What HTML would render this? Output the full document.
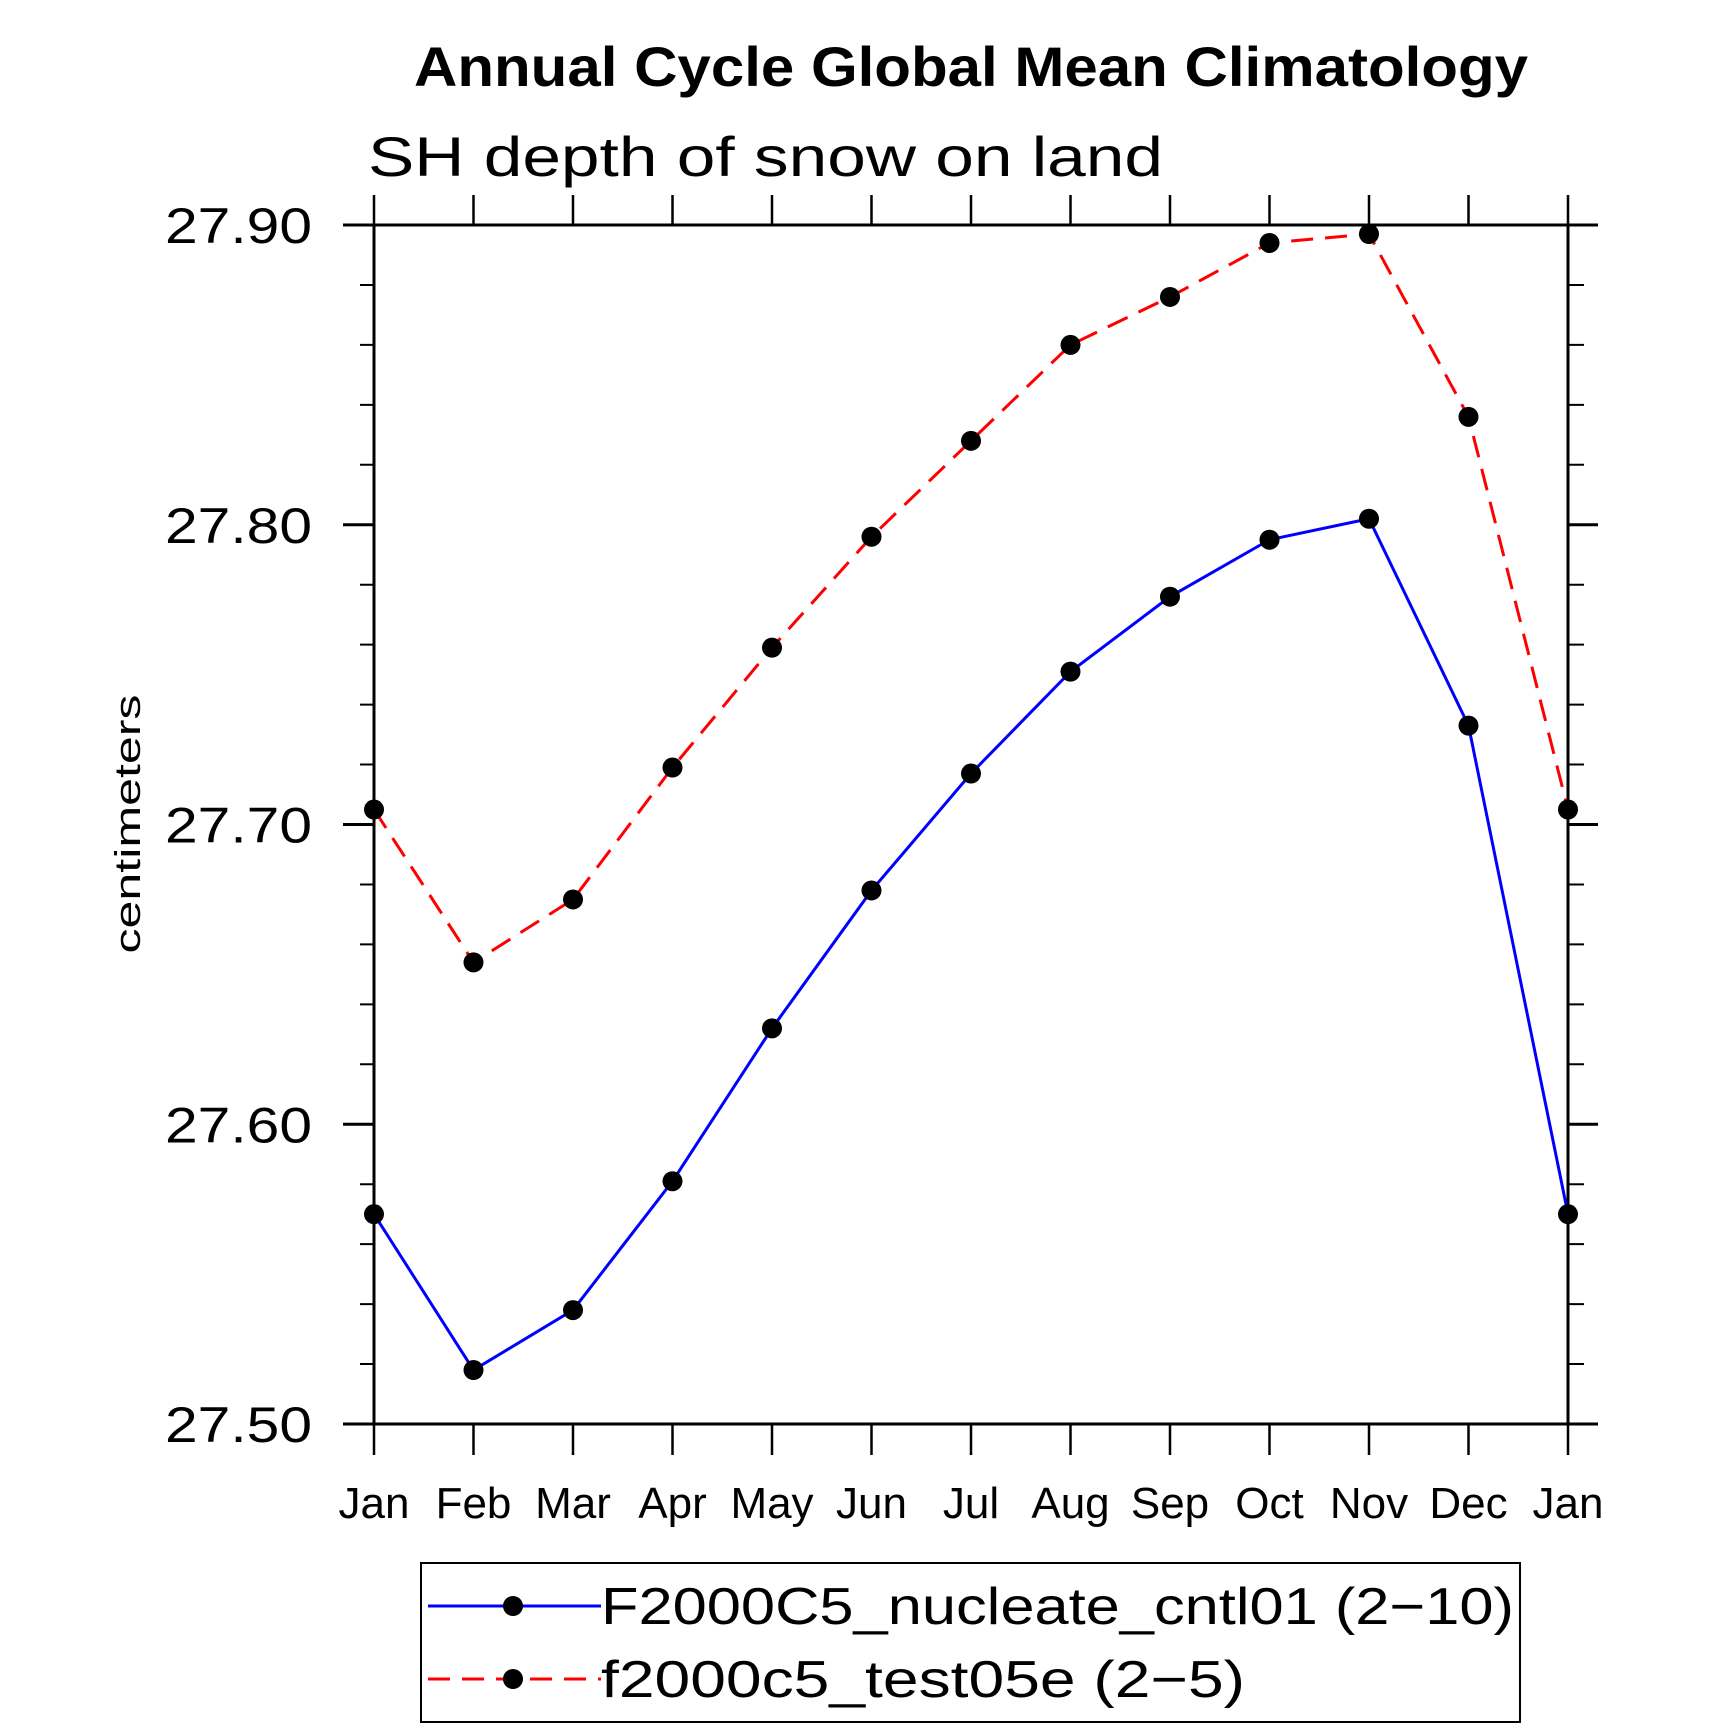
<!DOCTYPE html>
<html><head><meta charset="utf-8"><style>
html,body{margin:0;padding:0;background:#fff;}
svg{display:block;}
text{font-family:"Liberation Sans",sans-serif;}
</style></head><body>
<svg id="chart" width="1710" height="1729" viewBox="0 0 1710 1729" xmlns="http://www.w3.org/2000/svg">
<text x="414" y="86" font-size="56" font-weight="bold" textLength="1114" lengthAdjust="spacingAndGlyphs">Annual Cycle Global Mean Climatology</text>
<text x="368" y="176" font-size="56" font-weight="300" textLength="795" lengthAdjust="spacingAndGlyphs">SH depth of snow on land</text>
<text transform="translate(140,824) rotate(-90)" text-anchor="middle" font-size="36" textLength="259" lengthAdjust="spacingAndGlyphs">centimeters</text>
<g id="axes"></g>
<g id="series"></g>
<g>
<rect x="421" y="1563" width="1099" height="159" fill="none" stroke="#000" stroke-width="2"/>
<g>
<line x1="428" y1="1606" x2="601" y2="1606" stroke="#00f" stroke-width="3"/>
<circle cx="513" cy="1606" r="10" fill="#000"/>
<text x="601" y="1624" font-size="52" textLength="913" lengthAdjust="spacingAndGlyphs">F2000C5_nucleate_cntl01 (2−10)</text>
</g>
<g>
<line x1="428" y1="1679" x2="601" y2="1679" stroke="#f00" stroke-width="3" stroke-dasharray="22,12"/>
<circle cx="513" cy="1679" r="10" fill="#000"/>
<text x="601" y="1697" font-size="52" textLength="644" lengthAdjust="spacingAndGlyphs">f2000c5_test05e (2−5)</text>
</g>
</g>
</svg>
<script>
const months = ["Jan","Feb","Mar","Apr","May","Jun","Jul","Aug","Sep","Oct","Nov","Dec","Jan"];
const cntlValues = [27.570,27.518,27.538,27.581,27.632,27.678,27.717,27.751,27.776,27.795,27.802,27.733,27.570];
const testValues = [27.705,27.654,27.675,27.719,27.759,27.796,27.828,27.860,27.876,27.894,27.897,27.836,27.705];
const yTicks = [27.50,27.60,27.70,27.80,27.90];
const yTickLabels = ["27.50","27.60","27.70","27.80","27.90"];
const yMin = 27.5, yMax = 27.9;

const L=374,R=1568,T=225,B=1424;
const NS="http://www.w3.org/2000/svg";
function xS(i){return L+(R-L)*i/(months.length-1);}
function yS(v){return B-(v-yMin)/(yMax-yMin)*(B-T);}
function mk(tag,attrs,parent){const e=document.createElementNS(NS,tag);for(const k in attrs)e.setAttribute(k,attrs[k]);parent.appendChild(e);return e;}
const ax=document.getElementById('axes');
let fr=mk('path',{d:`M${L},${T}V${B}M${R},${T}V${B}M343,${T}H1598M343,${B}H1598`,stroke:'#000','stroke-width':3,fill:'none'},ax);


months.forEach((m,i)=>{
  const x=xS(i);
  const t=mk('path',{d:`M${x},${B}V1455M${x},${T}V195`,stroke:'#000','stroke-width':2.5},ax);
  
  
  const lb=mk('text',{x:x,y:1518,'text-anchor':'middle','font-size':44},ax);
  
  
  lb.textContent=m;
});
for(let k=0;k<=20;k++){
  const v=yMin+k*0.02;const y=yS(v);
  const major=(k%5===0);
  const t=mk('path',{d:major?`M343,${y}H${L}M${R},${y}H1598`:`M360,${y}H${L}M${R},${y}H1584`,stroke:'#000','stroke-width':major?3:2},ax);
  
  
}
yTicks.forEach((v,i)=>{
  const lb=mk('text',{x:312,y:yS(v)+18,'text-anchor':'end','font-size':50,textLength:147,lengthAdjust:'spacingAndGlyphs'},ax);
  
  
  lb.textContent=yTickLabels[i];
});
const sg=document.getElementById('series');
function drawSeries(vals,color,dash,name){
  const g=mk('g',{},sg);
  
  
  const d=vals.map((v,i)=>(i?'L':'M')+xS(i)+','+yS(v)).join('');
  const p=mk('path',{d:d,stroke:color,'stroke-width':3,fill:'none','stroke-dasharray':dash},g);
  
  
  vals.forEach((v,i)=>{
    const c=mk('circle',{cx:xS(i),cy:yS(v),r:10,fill:'#000'},g);
    
    
  });
}
drawSeries(cntlValues,'#00f','none','series-cntl01');
drawSeries(testValues,'#f00','22,12','series-test05e');
</script>
</body></html>
